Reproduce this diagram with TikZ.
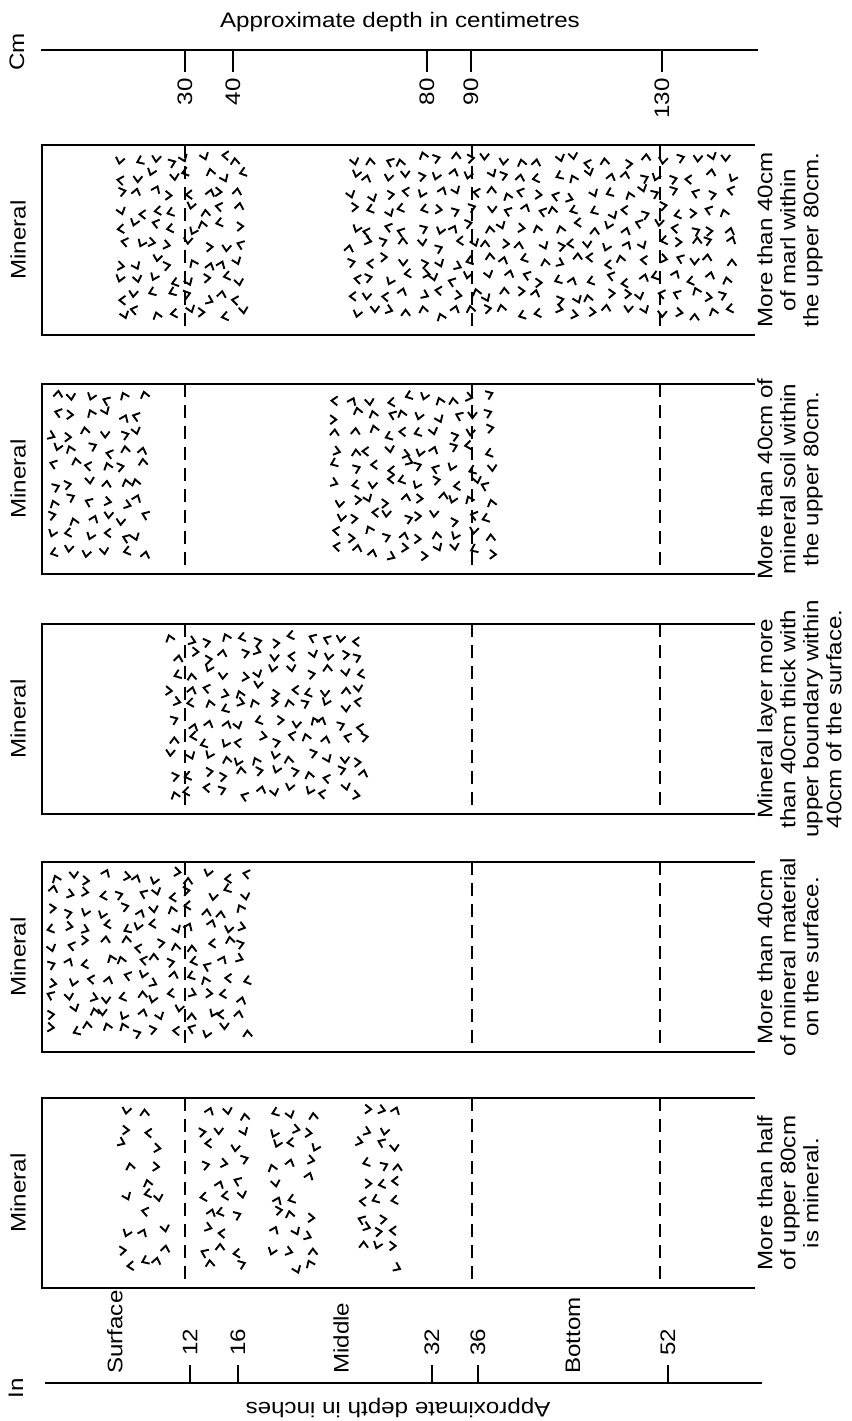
\documentclass[tikz,border=0pt]{standalone}
\usepackage{fontspec}
\setmainfont{Liberation Sans}
\usetikzlibrary{positioning}
\tikzset{
  rim/.style={line width=1.8pt},
  tk/.style={line width=1.6pt},
  dsh/.style={line width=1.7pt,dash pattern=on 13pt off 8pt},
  chev/.style={line width=1.9pt,line join=miter},
  lbl/.style={font=\fontsize{21}{23}\selectfont,inner sep=0pt,xscale=1.15},
  vlbl/.style={font=\fontsize{21}{23}\selectfont,inner sep=0pt,rotate=90,xscale=1.15,align=center}
}
% random chevrons in a box: x0,x1,y0,y1,step,share kept
\newcommand{\chevfill}[6]{%
  \pgfmathtruncatemacro{\ncol}{(#2-#1)/#5}%
  \pgfmathtruncatemacro{\nrow}{(#4-#3)/#5}%
  \foreach \i in {1,...,\ncol}{
    \foreach \j in {1,...,\nrow}{
      \pgfmathsetmacro{\px}{#1+(\i-0.5)*#5+0.3*#5*rand}
      \pgfmathsetmacro{\py}{#3+(\j-0.5)*#5+0.3*#5*rand}
      \pgfmathsetmacro{\pa}{90*floor(4*rnd)+25*rand}
      \pgfmathtruncatemacro{\pk}{rnd<#6}
      \ifnum\pk=1
        \draw[chev,shift={(\px,\py)},rotate=\pa] (-4.5,-3) -- (0,3) -- (4.5,-3);
      \fi
    }
  }%
}

\begin{document}
\begin{tikzpicture}[x=1pt,y=-1pt]
\useasboundingbox (0,0) rectangle (851,1421);
\pgfmathsetseed{7}
% centimetre scale
\node[lbl] (cmt) at (400,22) {Approximate depth in centimetres};
\node[vlbl] (cmu) at (17,52) {Cm};
\coordinate (ca) at (41,50);
\coordinate (cb) at (758,50);
\draw[rim] (ca) -- (cb);
\foreach \x/\v in {185/30,233/40,427/80,471/90,662/130}{
  \draw[tk] (\x,50) -- (\x,72);
  \node[vlbl,anchor=east] (c\v) at (\x,78) {\v};
}
% columns
\foreach \t/\n/\txt in {145/1/{More than 40cm\\of marl within\\the upper 80cm.},
    384/2/{More than 40cm of\\mineral soil within\\the upper 80cm.},
    624/3/{Mineral layer more\\than 40cm thick with\\upper boundary within\\40cm of the surface.},
    862/4/{More than 40cm\\of mineral material\\on the surface.},
    1098/5/{More than half\\of upper 80cm\\is mineral.}}{
  \draw[rim] (755,\t) -- (42,\t) -- (42,\t+190) -- (755,\t+190);
  \foreach \x in {185,472,660} \draw[dsh] (\x,\t) -- (\x,\t+190);
  \node[vlbl] (m\n) at (18,\t+95) {Mineral};
  \node[vlbl,anchor=north] (d\n) at (757,\t+95) {\txt};
}
\chevfill{112}{262}{151}{329}{17}{1}
\chevfill{345}{750}{151}{329}{17}{1}
\chevfill{47}{165}{390}{568}{17}{1}
\chevfill{328}{500}{390}{568}{17}{1}
\chevfill{165}{385}{630}{808}{17}{1}
\chevfill{47}{265}{868}{1046}{17}{1}
\chevfill{118}{183}{1104}{1282}{17}{0.75}
\chevfill{198}{250}{1104}{1282}{17}{0.9}
\chevfill{268}{332}{1104}{1282}{17}{0.85}
\chevfill{355}{420}{1104}{1282}{17}{0.85}
% inch scale
\coordinate (ia) at (45,1383);
\coordinate (ib) at (762,1383);
\draw[rim] (ia) -- (ib);
\foreach \x/\v in {190/12,238/16,432/32,478/36,668/52}{
  \draw[tk] (\x,1383) -- (\x,1365);
  \node[vlbl,anchor=west] (i\v) at (\x,1356) {\v};
}
\foreach \x/\v in {115/Surface,341/Middle,573/Bottom}
  \node[vlbl,anchor=west] (z\v) at (\x,1374) {\v};
\node[vlbl] (inu) at (16,1388) {In};
\node[lbl,rotate=180] (int) at (398,1408) {Approximate depth in inches};
\end{tikzpicture}
\end{document}
